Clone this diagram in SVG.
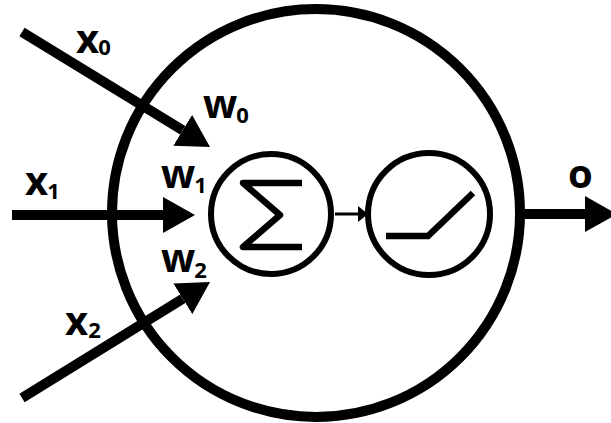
<svg xmlns="http://www.w3.org/2000/svg" width="611" height="423" viewBox="0 0 611 423">
  <style>
    .ring { fill: none; stroke: #000; }
    .wire { fill: none; stroke: #000; stroke-width: 10; }
    .glyph { fill: none; stroke: #000; stroke-width: 6.5; }
    .lbl { font-family: "Open Sans", "DejaVu Sans", sans-serif; font-weight: 700; fill: #000; font-size: 40px; }
    .sub { font-size: 22px; }
  </style>
  <defs>
    <marker id="head" viewBox="0 0 32 36" markerWidth="32" markerHeight="36" refX="0" refY="18" orient="auto" markerUnits="userSpaceOnUse">
      <path d="M0,0 L32,18 L0,36 Z" fill="#000"/>
    </marker>
  </defs>
  <rect width="611" height="423" fill="#fff"/>

  <!-- neuron body -->
  <g id="neuron">
    <circle class="ring" cx="316" cy="213" r="204" stroke-width="10"/>
  </g>

  <g id="connectors">
    <line class="wire" x1="22" y1="32" x2="182.7" y2="130.3" marker-end="url(#head)"/>
    <line class="wire" x1="12" y1="215" x2="163" y2="215" marker-end="url(#head)"/>
    <line class="wire" x1="22" y1="398" x2="182.8" y2="298.8" marker-end="url(#head)"/>
    <line class="wire" x1="519" y1="214" x2="585" y2="214" marker-end="url(#head)"/>
    <line x1="335" y1="214" x2="360" y2="214" stroke="#000" stroke-width="3"/>
    <path d="M358,206 L368,214 L358,222 Z" fill="#000"/>
  </g>

  <!-- summation -->
  <g id="sum">
    <circle class="ring" cx="271" cy="214" r="60" stroke-width="6" fill="#fff"/>
    <polyline class="glyph" points="302,183 243,183 280,215 243,247 302,247" stroke-linejoin="round"/>
  </g>

  <!-- activation -->
  <g id="activation">
    <circle class="ring" cx="429" cy="214" r="61" stroke-width="6" fill="#fff"/>
    <polyline class="glyph" points="386,236 428,236 473,193"/>
  </g>

  <!-- labels -->
  <g id="labels">
    <text class="lbl" x="76" y="53">x<tspan class="sub" dx="-1" dy="2">0</tspan></text>
    <text class="lbl" x="25" y="195">x<tspan class="sub" dx="-1" dy="4">1</tspan></text>
    <text class="lbl" x="65" y="335">x<tspan class="sub" dx="0" dy="3">2</tspan></text>
    <text class="lbl" x="203" y="118">w<tspan class="sub" dx="-1" dy="5">0</tspan></text>
    <text class="lbl" x="161" y="188">w<tspan class="sub" dx="-1" dy="5">1</tspan></text>
    <text class="lbl" x="161" y="272">w<tspan class="sub" dx="-1" dy="6">2</tspan></text>
    <text class="lbl" x="568" y="188">o</text>
  </g>
</svg>
